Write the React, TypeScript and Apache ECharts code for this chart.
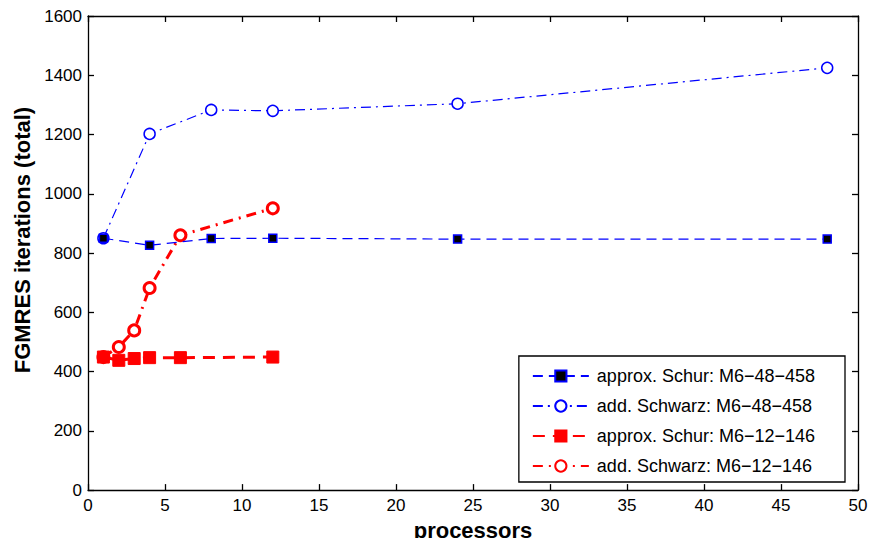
import React, { useEffect, useRef } from "react";
import * as echarts from "echarts";

const schur48X = [1, 4, 8, 12, 24, 48];
const schur48Y = [850, 826, 849, 850, 847, 847];
const schwarz48X = [1, 4, 8, 12, 24, 48];
const schwarz48Y = [850, 1202, 1283, 1280, 1304, 1425];
const schur12X = [1, 2, 3, 4, 6, 12];
const schur12Y = [449, 438, 444, 447, 447, 449];
const schwarz12X = [1, 2, 3, 4, 6, 12];
const schwarz12Y = [449, 483, 539, 682, 860, 951];
const seriesNames = [
  "approx. Schur: M6\u221248\u2212458",
  "add. Schwarz: M6\u221248\u2212458",
  "approx. Schur: M6\u221212\u2212146",
  "add. Schwarz: M6\u221212\u2212146",
];

const zip = (xs: number[], ys: number[]) => xs.map((x, i) => [x, ys[i]]);

export default function App() {
  const ref = useRef<HTMLDivElement>(null);
  useEffect(() => {
    const chart = echarts.init(ref.current!, null, { renderer: "svg" });
    const font = "Liberation Sans, Arial, Helvetica, sans-serif";
    const blue = "#0000ff";
    const red = "#ff0000";
    const lineW = 1.3;
    const tickStyle = { inside: true, length: 6, lineStyle: { color: "#000", width: lineW } };
    const axisLine = { show: true, onZero: false, lineStyle: { color: "#000", width: lineW } };
    const plain = (v: number) => String(v);
    chart.setOption({
      animation: false,
      backgroundColor: "#fff",
      textStyle: { fontFamily: font },
      grid: { left: 88, right: 20, top: 16, bottom: 54, show: false },
      xAxis: [
        {
          type: "value",
          min: 0,
          max: 50,
          interval: 5,
          name: "processors",
          nameLocation: "middle",
          nameGap: 23,
          nameTextStyle: { fontSize: 22, fontWeight: "bold", color: "#000", fontFamily: font },
          axisLine,
          axisTick: tickStyle,
          axisLabel: { fontSize: 17, color: "#000", margin: 7, fontFamily: font, formatter: plain },
          splitLine: { show: false },
        },
        {
          type: "value",
          position: "top",
          min: 0,
          max: 50,
          interval: 5,
          axisLine,
          axisTick: tickStyle,
          axisLabel: { show: false },
          splitLine: { show: false },
        },
      ],
      yAxis: [
        {
          type: "value",
          min: 0,
          max: 1600,
          interval: 200,
          name: "FGMRES iterations (total)",
          nameLocation: "middle",
          nameGap: 54,
          nameTextStyle: {
            fontSize: 22,
            fontWeight: "bold",
            color: "#000",
            fontFamily: font,
            padding: [0, 0, 0, 26],
          },
          axisLine,
          axisTick: tickStyle,
          axisLabel: { fontSize: 17, color: "#000", margin: 6, fontFamily: font, formatter: plain },
          splitLine: { show: false },
        },
        {
          type: "value",
          position: "right",
          min: 0,
          max: 1600,
          interval: 200,
          axisLine,
          axisTick: tickStyle,
          axisLabel: { show: false },
          splitLine: { show: false },
        },
      ],
      legend: {
        orient: "vertical",
        right: 33,
        bottom: 64,
        backgroundColor: "#fff",
        borderColor: "#000",
        borderWidth: 1.3,
        borderRadius: 0,
        padding: [11, 30, 7, 13],
        itemGap: 12,
        itemWidth: 56,
        itemHeight: 14,
        textStyle: { fontSize: 18, color: "#000", fontFamily: font, padding: [0, 0, 0, 3] },
        data: seriesNames,
      },
      series: [
        {
          name: seriesNames[3],
          type: "line",
          data: zip(schwarz12X, schwarz12Y),
          symbol: "circle",
          symbolSize: 11,
          itemStyle: { color: "#fff", borderColor: red, borderWidth: 3 },
          lineStyle: { color: red, width: 3, type: [10, 6, 2, 6] },
          z: 3,
        },
        {
          name: seriesNames[2],
          type: "line",
          data: zip(schur12X, schur12Y),
          symbol: "rect",
          symbolSize: 12,
          itemStyle: { color: red, borderColor: red, borderWidth: 1 },
          lineStyle: { color: red, width: 3, type: [12, 8] },
          z: 4,
        },
        {
          name: seriesNames[1],
          type: "line",
          data: zip(schwarz48X, schwarz48Y),
          symbol: "circle",
          symbolSize: 11,
          itemStyle: { color: "#fff", borderColor: blue, borderWidth: 1.5 },
          lineStyle: { color: blue, width: 1.2, type: [10, 5, 2, 5] },
          z: 5,
        },
        {
          name: seriesNames[0],
          type: "line",
          data: zip(schur48X, schur48Y),
          symbol: "rect",
          symbolSize: 8,
          itemStyle: { color: "#000", borderColor: blue, borderWidth: 1.5 },
          lineStyle: { color: blue, width: 1.2, type: [10, 6] },
          z: 6,
        },
      ],
    });
    return () => chart.dispose();
  }, []);
  return <div ref={ref} style={{ width: 878, height: 546, margin: -8 }} />;
}
